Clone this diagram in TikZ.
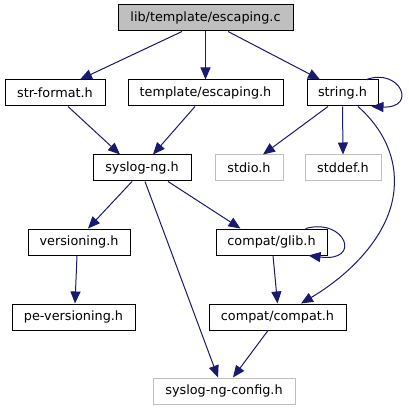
\documentclass[tikz,border=0pt]{standalone}
\usepackage{fontspec}
\setmainfont{DejaVu Sans}
\usetikzlibrary{arrows.meta}
\definecolor{edgeblue}{HTML}{191970}
\definecolor{boxgray}{HTML}{BFBFBF}

\begin{document}
\begin{tikzpicture}[
  x=1pt, y=-1pt,
  font=\fontsize{12.8}{15}\selectfont,
  file/.style={
    draw=black,
    line width=1pt,
    inner sep=0pt,
    minimum height=26pt,
    minimum width=#1
  },
  sysfile/.style={
    file=#1,
    draw=boxgray
  },
  mainfile/.style={
    file=#1,
    fill=boxgray
  },
  incl/.style={-{Triangle[length=12pt,width=10pt]}, line width=1pt, draw=edgeblue}
]
\useasboundingbox (0,0) rectangle (408,411);

\node[mainfile=175pt] (escc) at (205.5,18) {lib/template/escaping.c};

\node[file=100pt] (strf) at (55,93) {str-format.h};
\node[file=155pt] (tesc) at (205.5,93) {template/escaping.h};
\node[file=71pt] (strh) at (342.5,93) {string.h};

\node[file=98pt] (sysl) at (142,168) {syslog-ng.h};
\node[sysfile=68pt] (stdio) at (249,168) {stdio.h};
\node[sysfile=76pt] (stddef) at (343,168) {stddef.h};

\node[file=102pt] (vers) at (79,242) {versioning.h};
\node[file=111pt] (glib) at (271.5,242) {compat/glib.h};

\node[file=123pt] (pevers) at (73.5,317) {pe-versioning.h};
\node[file=137pt] (compat) at (277.5,317) {compat/compat.h};

\node[sysfile=142pt] (config) at (224,391) {syslog-ng-config.h};

\draw[incl] ([xshift=-23.5pt]escc.south) -- ([xshift=25pt]strf.north);
\draw[incl] (escc.south) -- (tesc.north);
\draw[incl] ([xshift=22.5pt]escc.south) -- ([xshift=-22.5pt]strh.north);
\draw[incl] ([xshift=-12pt]strh.north east) .. controls +(34,-12) and +(46,2) .. ([xshift=-7pt]strh.south east);

\draw[incl] ([xshift=13pt]strf.south) -- ([xshift=-22pt]sysl.north);
\draw[incl] ([xshift=-10.5pt]tesc.south) -- ([xshift=11pt]sysl.north);
\draw[incl] ([xshift=-14.5pt]strh.south) -- ([xshift=14pt]stdio.north);
\draw[incl] (strh.south) -- (stddef.north);
\draw[incl] ([xshift=15.5pt]strh.south) .. controls +(27,24) and +(3,-30) .. (394,190)
  .. controls +(-4,45) and +(49,-29) .. ([xshift=23.5pt]compat.north);

\draw[incl] ([xshift=-10pt]sysl.south) -- ([xshift=9pt]vers.north);
\draw[incl] ([xshift=26pt]sysl.south) -- ([xshift=-31pt]glib.north);
\draw[incl] ([xshift=3pt]sysl.south) -- ([xshift=-6pt]config.north);
\draw[incl] ([xshift=-22pt]glib.north east) .. controls +(40,-11) and +(54,7) .. ([xshift=-19pt]glib.south east);

\draw[incl] ([xshift=-2pt]vers.south) -- ([xshift=1.5pt]pevers.north);
\draw[incl] ([xshift=1.5pt]glib.south) -- (compat.north);
\draw[incl] ([xshift=-9.5pt]compat.south) -- ([xshift=9pt]config.north);

\end{tikzpicture}
\end{document}
